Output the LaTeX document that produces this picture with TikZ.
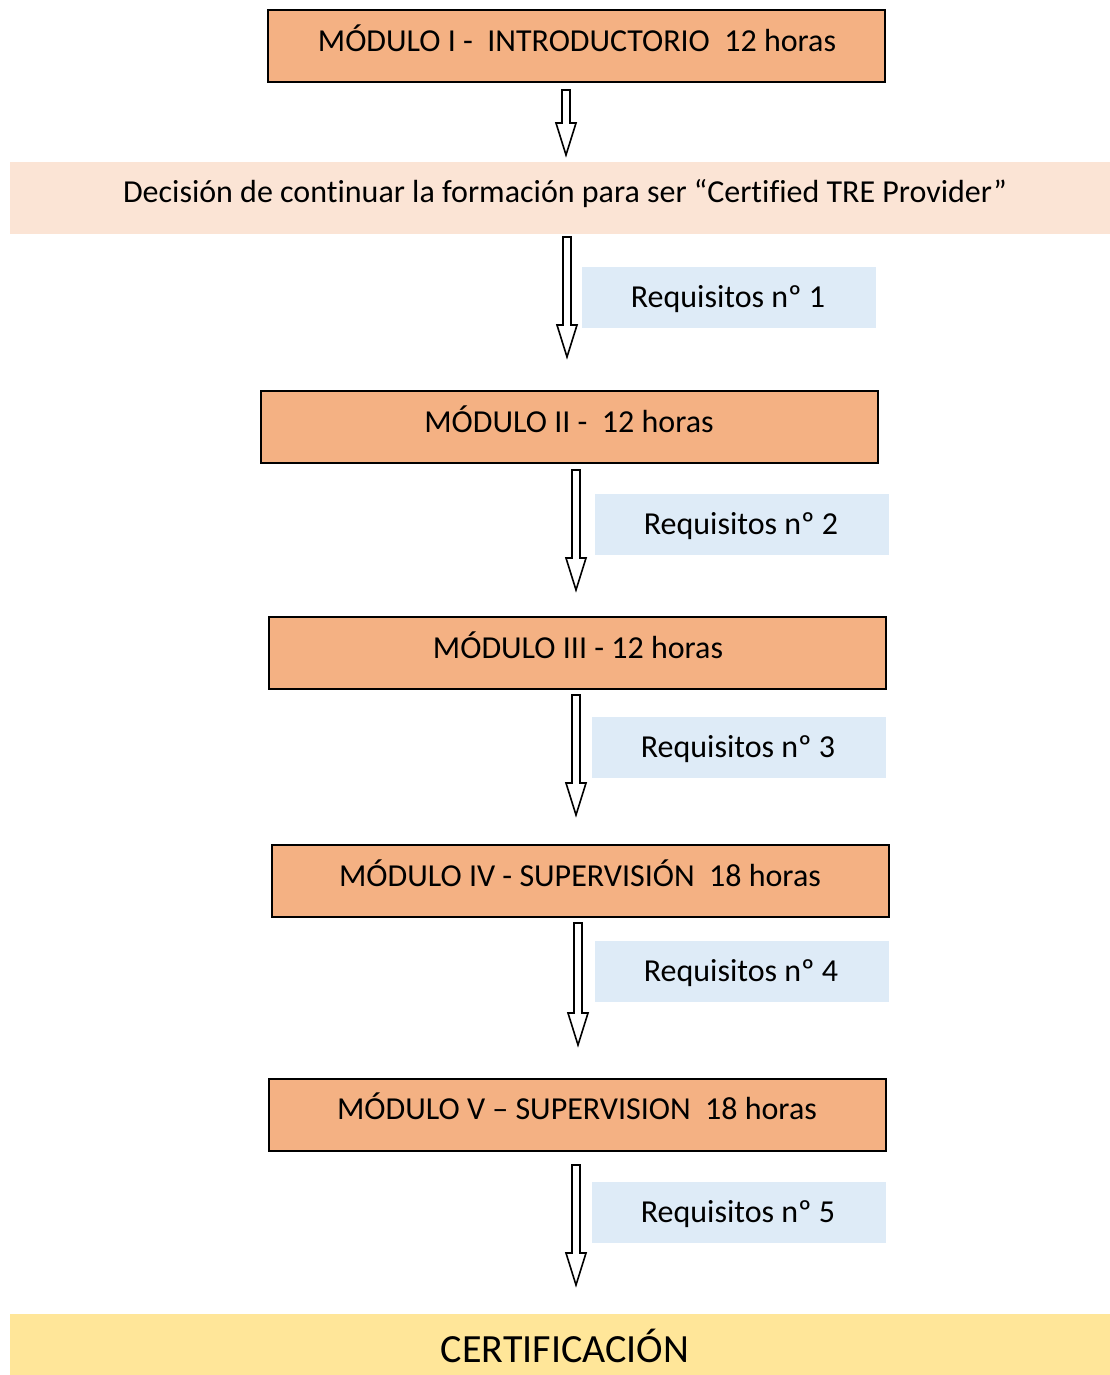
\documentclass[tikz,border=0pt]{standalone}
\usepackage{fontspec}
\setmainfont[Ligatures={NoCommon}]{Carlito}
\usetikzlibrary{calc}
\definecolor{modfill}{HTML}{F4B183}
\definecolor{decfill}{HTML}{FBE4D5}
\definecolor{reqfill}{HTML}{DEEBF7}
\definecolor{certfill}{HTML}{FFE699}
\tikzset{
  modbox/.style={draw=black, line width=1.3pt, fill=modfill, rectangle, inner sep=0pt},
  decbox/.style={fill=decfill, draw=none, rectangle, inner sep=0pt},
  reqbox/.style={fill=reqfill, draw=none, rectangle, inner sep=0pt},
  certbox/.style={fill=certfill, draw=none, rectangle, inner sep=0pt},
  lbl/.style={font=\fontsize{32}{38}\selectfont, inner sep=0pt, anchor=base},
  certlbl/.style={font=\fontsize{40}{48}\selectfont, inner sep=0pt, anchor=base},
  blockarrow/.style={draw=black, line width=1.6pt, fill=white, line join=miter},
}
\newcommand\blockarr[2]{%
  \draw[blockarrow] let \p1=(#1), \p2=(#2) in
    (\x1-4pt,\y1) -- (\x1+4pt,\y1) -- (\x1+4pt,\y2+32pt) -- (\x1+10pt,\y2+32pt)
    -- (\x1,\y2) -- (\x1-10pt,\y2+32pt) -- (\x1-4pt,\y2+32pt) -- cycle;}
\begin{document}
\begin{tikzpicture}[x=1pt,y=-1pt]
\useasboundingbox (0,0) rectangle (1110,1375);
% boxes
\path[modbox] (268,10) rectangle (885,82);
\path[decbox] (10,162) rectangle (1110,234);
\path[reqbox] (582,267) rectangle (876,328);
\path[modbox] (261,391) rectangle (878,463);
\path[reqbox] (595,494) rectangle (889,555);
\path[modbox] (269,617) rectangle (886,689);
\path[reqbox] (592,717) rectangle (886,778);
\path[modbox] (272,845) rectangle (889,917);
\path[reqbox] (595,941) rectangle (889,1002);
\path[modbox] (269,1079) rectangle (886,1151);
\path[reqbox] (592,1182) rectangle (886,1243);
\path[certbox] (10,1314) rectangle (1110,1375);
% labels
\node[lbl] (t1) at (577,52) {MÓDULO I -\ \ INTRODUCTORIO\ \ 12 horas};
\node[lbl] (t0) at (565,202) {Decisión de continuar la formación para ser “Certified TRE Provider”};
\node[lbl] (tr1) at (728,307) {Requisitos nº 1};
\node[lbl] (t2) at (569,432) {MÓDULO II -\ \ 12 horas};
\node[lbl] (tr2) at (741,534) {Requisitos nº 2};
\node[lbl] (t3) at (578,658) {MÓDULO III - 12 horas};
\node[lbl] (tr3) at (738,757) {Requisitos nº 3};
\node[lbl] (t4) at (580,886) {MÓDULO IV - SUPERVISIÓN\ \ 18 horas};
\node[lbl] (tr4) at (741,981) {Requisitos nº 4};
\node[lbl] (t5) at (577,1119) {MÓDULO V – SUPERVISION\ \ 18 horas};
\node[lbl] (tr5) at (738,1222) {Requisitos nº 5};
\node[certlbl] (tc) at (565,1362) {CERTIFICACIÓN};
% arrow anchor coordinates
\coordinate (a1s) at (566,90);   \coordinate (a1e) at (566,155);
\coordinate (a2s) at (567,237);  \coordinate (a2e) at (567,357);
\coordinate (a3s) at (576,470);  \coordinate (a3e) at (576,590);
\coordinate (a4s) at (576,695);  \coordinate (a4e) at (576,815);
\coordinate (a5s) at (578,923);  \coordinate (a5e) at (578,1045);
\coordinate (a6s) at (576,1165); \coordinate (a6e) at (576,1285);
\blockarr{a1s}{a1e}
\blockarr{a2s}{a2e}
\blockarr{a3s}{a3e}
\blockarr{a4s}{a4e}
\blockarr{a5s}{a5e}
\blockarr{a6s}{a6e}
\end{tikzpicture}
\end{document}
